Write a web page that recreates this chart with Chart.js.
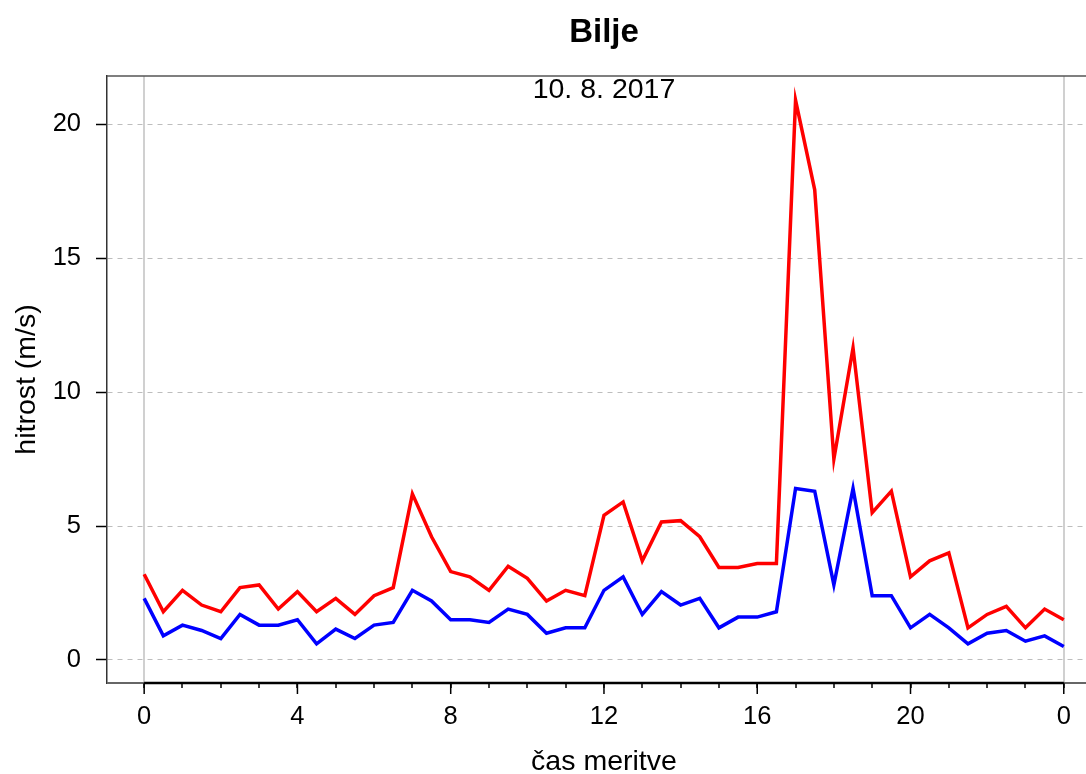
<!DOCTYPE html>
<html>
<head>
<meta charset="utf-8">
<script src="https://cdn.jsdelivr.net/npm/chart.js@4/dist/chart.umd.min.js"></script>
<style>
  html, body { margin: 0; padding: 0; background: #fff; }
  #chart { display: block; }
</style>
</head>
<body>
<canvas id="chart" width="1086" height="774"></canvas>
<script>
// measurement times (hours), every half hour over the day
const hours = [0, 0.5, 1, 1.5, 2, 2.5, 3, 3.5, 4, 4.5, 5, 5.5, 6, 6.5, 7, 7.5, 8, 8.5, 9, 9.5,
  10, 10.5, 11, 11.5, 12, 12.5, 13, 13.5, 14, 14.5, 15, 15.5, 16, 16.5, 17, 17.5, 18, 18.5, 19, 19.5,
  20, 20.5, 21, 21.5, 22, 22.5, 23, 23.5, 24];

// gusts (red)
const gusts = [3.2, 1.8, 2.6, 2.05, 1.8, 2.7, 2.8, 1.9, 2.55, 1.8, 2.3, 1.7, 2.4, 2.7,
  6.2, 4.6, 3.3, 3.1, 2.6, 3.5, 3.05, 2.2, 2.6, 2.4, 5.4, 5.9, 3.7, 5.15,
  5.2, 4.6, 3.45, 3.45, 3.6, 3.6, 20.9, 17.55, 7.5, 11.65, 5.5, 6.3, 3.1, 3.7,
  4.0, 1.2, 1.7, 2.0, 1.2, 1.9, 1.5];

// mean wind speed (blue)
const meanSpeed = [2.3, 0.9, 1.3, 1.1, 0.8, 1.7, 1.3, 1.3, 1.5, 0.6, 1.15, 0.8, 1.3, 1.4,
  2.6, 2.2, 1.5, 1.5, 1.4, 1.9, 1.7, 1.0, 1.2, 1.2, 2.6, 3.1, 1.7, 2.55,
  2.05, 2.3, 1.2, 1.6, 1.6, 1.8, 6.4, 6.3, 2.8, 6.4, 2.4, 2.4, 1.2, 1.7,
  1.2, 0.6, 1.0, 1.1, 0.7, 0.9, 0.5];

const xTicks = [0, 4, 8, 12, 16, 20, 24];
const xTickLabels = ['0', '4', '8', '12', '16', '20', '0'];
const yTicks = [0, 5, 10, 15, 20];

const FONT = '"Liberation Sans", Arial, sans-serif';

const toPoints = vals => hours.map((h, i) => ({ x: h, y: vals[i] }));

// frame pieces, long major ticks, titles and the date label
const decor = {
  id: 'decor',
  afterDraw(chart) {
    const { ctx, chartArea: a, scales: { x } } = chart;
    const x0 = x.getPixelForValue(0);
    const x24 = x.getPixelForValue(24);
    const xMid = x.getPixelForValue(12);
    ctx.save();
    // top border
    ctx.strokeStyle = '#555';
    ctx.lineWidth = 1.5;
    ctx.beginPath();
    ctx.moveTo(a.left, a.top);
    ctx.lineTo(a.right, a.top);
    ctx.stroke();
    // bottom axis: grey outside the day, black across it
    ctx.lineWidth = 2;
    ctx.strokeStyle = '#666';
    ctx.beginPath();
    ctx.moveTo(a.left, a.bottom);
    ctx.lineTo(a.right, a.bottom);
    ctx.stroke();
    ctx.strokeStyle = '#000';
    ctx.lineWidth = 2.5;
    ctx.beginPath();
    ctx.moveTo(x0, a.bottom);
    ctx.lineTo(x24, a.bottom);
    ctx.stroke();
    // longer ticks at labelled hours
    ctx.lineWidth = 1.5;
    xTicks.forEach(v => {
      const px = x.getPixelForValue(v);
      ctx.beginPath();
      ctx.moveTo(px, a.bottom);
      ctx.lineTo(px, a.bottom + 11);
      ctx.stroke();
    });
    ctx.fillStyle = '#000';
    ctx.textAlign = 'center';
    ctx.textBaseline = 'middle';
    // title
    ctx.font = 'bold 33px ' + FONT;
    ctx.fillText('Bilje', xMid, 33);
    // date
    ctx.font = '28.5px ' + FONT;
    ctx.fillText('10. 8. 2017', xMid, a.top + 14);
    // x axis title
    ctx.textBaseline = 'alphabetic';
    ctx.font = '28.5px ' + FONT;
    ctx.fillText('čas meritve', xMid, 770);
    ctx.restore();
  }
};

new Chart(document.getElementById('chart'), {
  type: 'line',
  data: {
    datasets: [
      {
        label: 'sunki',
        data: toPoints(gusts),
        borderColor: '#ff0000',
        borderWidth: 3.5,
        pointRadius: 0,
        tension: 0,
        fill: false
      },
      {
        label: 'povprečna hitrost',
        data: toPoints(meanSpeed),
        borderColor: '#0000ff',
        borderWidth: 3.5,
        pointRadius: 0,
        tension: 0,
        fill: false
      }
    ]
  },
  options: {
    responsive: false,
    animation: false,
    layout: { padding: { top: 76, right: 0, bottom: 0, left: 0 } },
    plugins: {
      legend: { display: false },
      tooltip: { enabled: false },
      title: { display: false }
    },
    scales: {
      x: {
        type: 'linear',
        min: -0.97,
        max: 24.58,
        afterBuildTicks: s => { s.ticks = hours.filter(h => Number.isInteger(h)).map(v => ({ value: v })); },
        afterFit: s => { s.height = 91; },
        ticks: {
          autoSkip: false,
          maxRotation: 0,
          color: '#000',
          padding: 14,
          font: { family: FONT, size: 25.5 },
          callback: v => {
            const i = xTicks.indexOf(v);
            return i >= 0 ? xTickLabels[i] : '';
          }
        },
        grid: {
          color: c => (c.tick && (c.tick.value === 0 || c.tick.value === 24)) ? '#d0d0d0' : 'rgba(0,0,0,0)',
          lineWidth: 2,
          tickColor: '#000',
          tickWidth: 1.5,
          tickLength: 5
        },
        border: { display: false },
        title: { display: false }
      },
      y: {
        min: -0.86,
        max: 21.8,
        afterBuildTicks: s => { s.ticks = yTicks.map(v => ({ value: v })); },
        afterFit: s => { s.width = 107; },
        ticks: {
          color: '#000',
          padding: 15,
          font: { family: FONT, size: 25.5 }
        },
        grid: {
          color: '#bdbdbd',
          lineWidth: 1,
          tickColor: '#000',
          tickWidth: 1.5,
          tickLength: 11
        },
        border: { display: true, color: '#333', width: 1.5, dash: [5, 5] },
        title: {
          display: true,
          text: 'hitrost (m/s)',
          color: '#000',
          font: { family: FONT, size: 28.5, lineHeight: 1 },
          padding: { top: 13, bottom: 0 }
        }
      }
    }
  },
  plugins: [decor]
});
</script>
</body>
</html>
